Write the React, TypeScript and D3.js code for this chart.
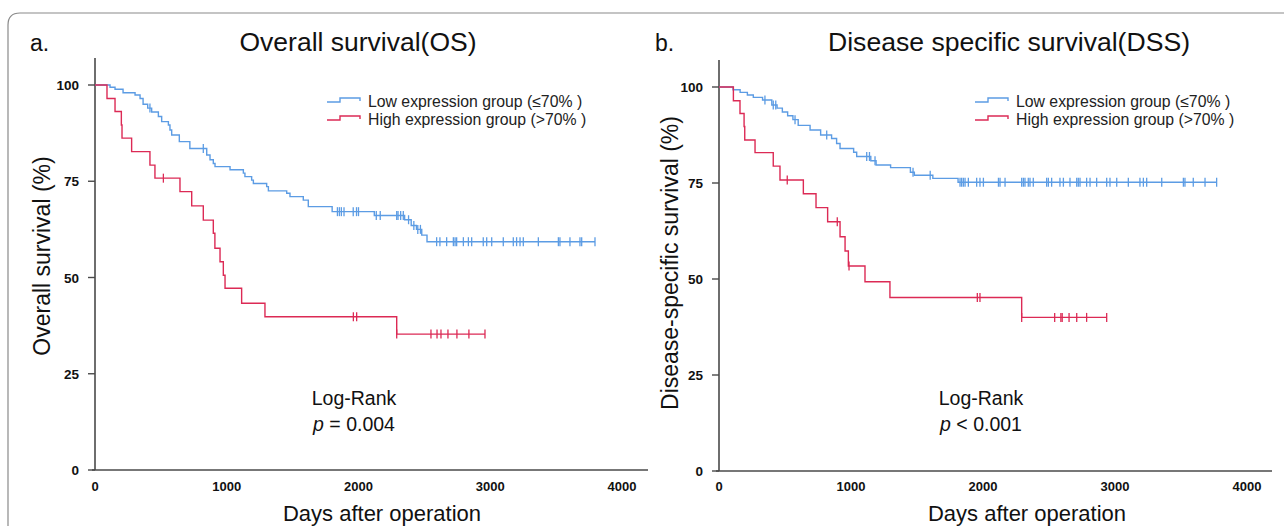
import React from "react";
import * as d3 from "d3";

// ---------- DATA ----------
const xTicks = [0, 1000, 2000, 3000, 4000];
const yTicks = [0, 25, 50, 75, 100];

// Overall survival – low expression group (≤70%)
const osLowTimes = [114,152,213,304,342,365,400,430,481,506,557,569,582,640,720,848,873,898,911,1025,1126,1138,1189,1202,1303,1316,1455,1480,1581,1619,1800,2120,2350,2400,2440,2480,2520];
const osLowSurv = [99.4,98.9,98,97.4,96.5,95,94,93,91.8,90.5,89.6,88.3,87,85.3,83.5,81.8,80.6,79.6,78.8,78,77.1,76.2,75.3,74.4,73.6,72.5,71.9,71,70.1,68.4,67.1,66.1,65,63.5,62.5,61,59.3];
const osLowCensor = [417,822,1840,1855,1870,1890,1960,1985,2000,2135,2165,2290,2300,2320,2340,2380,2420,2450,2470,2593,2618,2669,2720,2733,2745,2796,2834,2859,2947,2973,3011,3099,3175,3200,3226,3251,3365,3517,3529,3605,3681,3694,3795];

// Overall survival – high expression group (>70%)
const osHighTimes = [91,152,200,205,278,417,455,645,734,822,898,910,949,974,987,1113,1290,2290];
const osHighSurv = [96.5,93.1,89.6,86.2,82.7,79.2,75.8,72.3,68.6,64.9,61.5,57.6,54.1,50.6,47.2,43.3,39.8,35.3];
const osHighCensor = [519,1961,1986,2290,2550,2596,2626,2679,2747,2838,2960];

// Disease specific survival – low expression group
const dssLowTimes = [106,160,215,260,330,400,440,480,520,560,600,690,770,853,891,917,1020,1043,1150,1190,1300,1450,1480,1620,1811];
const dssLowSurv = [99.3,98.6,97.9,97.3,96.6,95.3,94.5,93.5,92.5,91.5,90,88.8,87.5,86.6,85.3,84,83,81.9,80.8,79.7,79,77.8,77,76.2,75.2];
const dssLowCensor = [348,411,430,576,816,1119,1140,1182,1470,1600,1826,1838,1851,1864,1889,1952,1977,2003,2117,2129,2167,2293,2306,2318,2343,2356,2381,2482,2495,2520,2583,2609,2659,2710,2722,2735,2785,2811,2861,2937,2962,3013,3101,3189,3215,3240,3354,3518,3530,3593,3682,3770];

// Disease specific survival – high expression group
const dssHighTimes = [109,159,190,195,273,411,462,639,735,823,917,955,980,1106,1295,2293];
const dssHighSurv = [96.4,93.1,89.7,86.2,82.9,79.4,75.8,72.2,68.6,64.9,61,57.3,53.4,49.3,45.2,40];
const dssHighCensor = [517,896,985,1957,1977,2293,2543,2590,2600,2652,2710,2785,2937];

const legendLabels = ["Low expression group (≤70% )", "High expression group (>70% )"];

// ---------- STYLE ----------
const BLUE = "#5c9ce4";
const RED = "#dc2a55";
const AXIS = "#4a4a4a";
const FONT = "'Liberation Sans', Arial, Helvetica, sans-serif";

type Series = { times: number[]; surv: number[]; censor: number[]; color: string };

function survAt(times: number[], surv: number[], t: number) {
  let v = 100;
  for (let i = 0; i < times.length; i++) if (times[i] <= t) v = surv[i];
  return v;
}

function Panel(props: {
  xRange: [number, number];
  yRange: [number, number];
  axisEndX: number;
  axisTopY: number;
  series: Series[];
  letter: string;
  letterX: number;
  title: string;
  titleX: number;
  yTitle: string;
  yTitleX: number;
  yTitleY: number;
  xTitleX: number;
  legendX: number;
  logX: number;
  pText: string;
}) {
  const x = d3.scaleLinear().domain([0, 4000]).range(props.xRange);
  const y = d3.scaleLinear().domain([0, 100]).range(props.yRange);
  const line = d3
    .line<[number, number]>()
    .x((d) => x(d[0]))
    .y((d) => y(d[1]))
    .curve(d3.curveStepAfter);
  const x0 = x(0);
  const y0 = y(0);
  return (
    <g>
      <text x={props.letterX} y={51} fontSize={23} fontFamily={FONT} fill="#111">{props.letter}</text>
      <text x={props.titleX} y={51} fontSize={25} fontFamily={FONT} textAnchor="middle" fill="#111" textLength={props.title.length > 22 ? 362 : 237} lengthAdjust="spacingAndGlyphs">{props.title}</text>
      {/* axes */}
      <line x1={x0} x2={x0} y1={props.axisTopY} y2={y0} stroke={AXIS} strokeWidth={1.6} />
      <line x1={x0 - 3} x2={props.axisEndX} y1={y0} y2={y0} stroke={AXIS} strokeWidth={1.6} />
      {yTicks.map((t) => (
        <g key={"y" + t}>
          <line x1={x0 - 7} x2={x0} y1={y(t)} y2={y(t)} stroke={AXIS} strokeWidth={1.4} />
          <text x={x0 - 16} y={y(t) + 5} fontSize={13.5} fontWeight="bold" fontFamily={FONT} textAnchor="end" fill="#111">{t}</text>
        </g>
      ))}
      {xTicks.map((t) => (
        <text key={"x" + t} x={x(t)} y={491} fontSize={13} fontWeight="bold" fontFamily={FONT} textAnchor="middle" fill="#111">{t}</text>
      ))}
      <text transform={`translate(${props.yTitleX},${props.yTitleY}) rotate(-90)`} fontSize={23} fontFamily={FONT} textAnchor="middle" fill="#111">{props.yTitle}</text>
      <text x={props.xTitleX} y={521} fontSize={22} fontFamily={FONT} textAnchor="middle" fill="#111">Days after operation</text>
      {/* curves */}
      {props.series.map((s, i) => {
        const end = Math.max(...s.censor, ...s.times);
        const pts: [number, number][] = [[0, 100], ...s.times.map((t, j) => [t, s.surv[j]] as [number, number]), [end, s.surv[s.surv.length - 1]]];
        return (
          <g key={i}>
            <path d={line(pts) || ""} fill="none" stroke={s.color} strokeWidth={1.4} />
            {s.censor.map((c, k) => {
              const v = survAt(s.times, s.surv, c);
              return <line key={k} x1={x(c)} x2={x(c)} y1={y(v) - 4.5} y2={y(v) + 4.5} stroke={s.color} strokeWidth={1.3} />;
            })}
          </g>
        );
      })}
      {/* legend */}
      {props.series.map((s, i) => {
        const by = 102 + i * 18;
        const lx = props.legendX;
        return (
          <g key={"lg" + i}>
            <path d={`M${lx},${by} H${lx + 13} V${by - 4} H${lx + 33} V${by - 1}`} fill="none" stroke={s.color} strokeWidth={1.4} />
            <text x={lx + 41} y={by + 4.5} fontSize={15.8} fontFamily={FONT} fill="#222">{legendLabels[i]}</text>
          </g>
        );
      })}
      <text x={props.logX} y={405} fontSize={19.5} fontFamily={FONT} textAnchor="middle" fill="#111">Log-Rank</text>
      <text x={props.logX} y={431} fontSize={19.5} fontFamily={FONT} textAnchor="middle" fill="#111">
        <tspan fontStyle="italic">p</tspan>
        <tspan>{props.pText}</tspan>
      </text>
    </g>
  );
}

export default function App() {
  return (
    <svg width={1284} height={526} style={{ position: "absolute", left: 0, top: 0, background: "#fff" }}>
      <rect x={0} y={0} width={1284} height={526} fill="#fff" />
      <path d="M8,560 V25 Q8,13 20,13 H1300" fill="none" stroke="#8a8a8a" strokeWidth={1.2} />
      <Panel
        xRange={[95, 622]}
        yRange={[470, 85]}
        axisEndX={648}
        axisTopY={58}
        series={[
          { times: osLowTimes, surv: osLowSurv, censor: osLowCensor, color: BLUE },
          { times: osHighTimes, surv: osHighSurv, censor: osHighCensor, color: RED },
        ]}
        letter="a."
        letterX={30}
        title="Overall survival(OS)"
        titleX={358}
        yTitle="Overall survival (%)"
        yTitleX={50}
        yTitleY={256}
        xTitleX={382}
        legendX={327}
        logX={354}
        pText=" = 0.004"
      />
      <Panel
        xRange={[719, 1247]}
        yRange={[471, 87]}
        axisEndX={1272}
        axisTopY={60}
        series={[
          { times: dssLowTimes, surv: dssLowSurv, censor: dssLowCensor, color: BLUE },
          { times: dssHighTimes, surv: dssHighSurv, censor: dssHighCensor, color: RED },
        ]}
        letter="b."
        letterX={655}
        title="Disease specific survival(DSS)"
        titleX={1009}
        yTitle="Disease-specific survival (%)"
        yTitleX={678}
        yTitleY={263}
        xTitleX={1027}
        legendX={975}
        logX={981}
        pText=" < 0.001"
      />
    </svg>
  );
}
